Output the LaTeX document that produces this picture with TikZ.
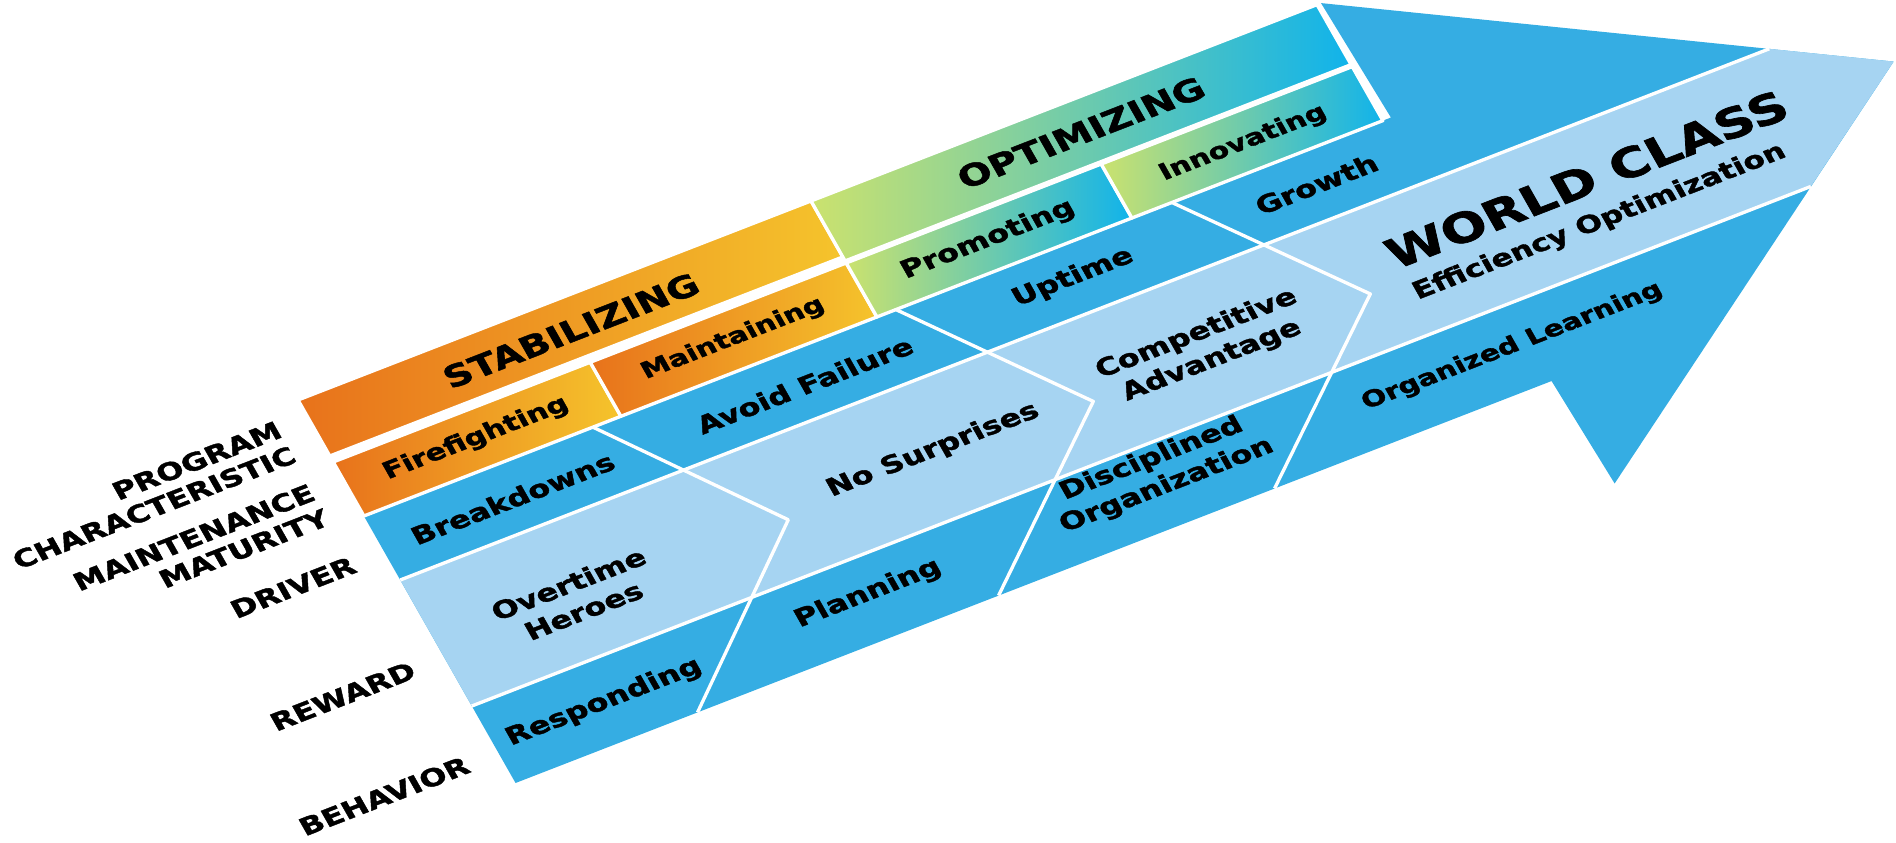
\documentclass[tikz,border=0pt]{standalone}
\usepackage{fontspec}
\setmainfont{DejaVu Sans}[BoldFeatures={FakeBold=1.5}]
\definecolor{arrowblue}{HTML}{35ADE3}
\definecolor{paleblue}{HTML}{A6D4F2}
\definecolor{orangeL}{HTML}{E8721B}
\definecolor{orangeR}{HTML}{F5C42C}
\definecolor{limeL}{HTML}{CBE26E}
\definecolor{cyanR}{HTML}{10B3EB}
\tikzset{
  wline/.style={draw=white, line width=1.9pt, line join=round},
  stabbar/.style={wline, left color=orangeL, right color=orangeR},
  optbar/.style={wline, left color=limeL, right color=cyanR},
  cell/.style={font=\fontsize{12.4}{15.2}\selectfont\bfseries, transform shape, xscale=1.33, align=center, inner sep=0pt},
  side/.style={cell, anchor=east, align=right}
}
\begin{document}
\begin{tikzpicture}[x=0.02cm, y=-0.02cm]
\useasboundingbox (0,0) rectangle (1896,842);
\begin{scope}[shift={(298,400)}, cm={1,0.388,-0.568,1,(0,0)}]
  % arrow body and head
  \fill[arrowblue] (0,116) -- (1027,116) -- (1023,0) -- (1465,230) -- (1040,487) -- (1036,383) -- (0,383) -- cycle;
  \fill[paleblue] (0,180) -- (1369,180) -- (1465,230) -- (1339,306) -- (0,306) -- cycle;
  \draw[wline] (0,180) -- (1369,180);
  \draw[wline] (0,306) -- (1339,306);
  \draw[wline] (229,116) -- (346,254) -- (182,383);
  \draw[wline] (532,116) -- (651,254) -- (483,383);
  \draw[wline] (808,116) -- (928,254) -- (759,383);
  % bars
  \draw[stabbar] (0,0) -- (513,0) -- (513,56) -- (0,56) -- cycle;
  \draw[optbar] (513,0) -- (1019,0) -- (1019,60) -- (513,60) -- cycle;
  \draw[stabbar] (0,62) -- (257,62) -- (257,116) -- (0,116) -- cycle;
  \draw[stabbar] (257,62) -- (513,62) -- (513,116) -- (257,116) -- cycle;
  \draw[optbar] (513,62) -- (768,62) -- (768,116) -- (513,116) -- cycle;
  \draw[optbar] (768,62) -- (1019,62) -- (1019,116) -- (768,116) -- cycle;
  % row labels
  \node[side, font=\fontsize{12.4}{14.2}\selectfont\bfseries] (program) at (-28,30) {PROGRAM\\CHARACTERISTIC};
  \node[side, font=\fontsize{12.4}{14.2}\selectfont\bfseries] (maturity) at (-30,92) {MAINTENANCE\\MATURITY};
  \node[side] (driver) at (-30,152) {DRIVER};
  \node[side] (reward) at (-30,257) {REWARD};
  \node[side] (behavior) at (-30,352) {BEHAVIOR};
  % cells
  \node[cell, font=\fontsize{15.4}{17}\selectfont\bfseries] (stab) at (256,30) {STABILIZING};
  \node[cell, font=\fontsize{15.4}{17}\selectfont\bfseries] (optim) at (766,30) {OPTIMIZING};
  \node[cell, font=\fontsize{11.8}{13}\selectfont\bfseries] (fire) at (128,88) {Firefighting};
  \node[cell, font=\fontsize{11.5}{13}\selectfont\bfseries] (maint) at (385,88) {Maintaining};
  \node[cell] (promo) at (640,88) {Promoting};
  \node[cell, font=\fontsize{11.6}{13}\selectfont\bfseries] (innov) at (894,90) {Innovating};
  \node[cell] (break) at (130,149) {Breakdowns};
  \node[cell] (avoid) at (422,149) {Avoid Failure};
  \node[cell] (uptime) at (692,146) {Uptime};
  \node[cell] (growth) at (935,147) {Growth};
  \node[cell] (heroes) at (136,250) {Overtime\\Heroes};
  \node[cell] (nosurp) at (497,243) {No Surprises};
  \node[cell] (compet) at (767,245) {Competitive\\Advantage};
  \node[cell, font=\fontsize{21}{23}\selectfont\bfseries, anchor=west] (world) at (960,229) {WORLD CLASS};
  \node[cell, font=\fontsize{12.2}{13}\selectfont\bfseries, anchor=west] (effic) at (964,268) {Efficiency Optimization};
  \node[cell] (respond) at (110,345) {Responding};
  \node[cell] (plan) at (377,340) {Planning};
  \node[cell] (discip) at (672,333) {Disciplined\\Organization};
  \node[cell, font=\fontsize{11.5}{13}\selectfont\bfseries] (learn) at (1020,342) {Organized Learning};
\end{scope}
\end{tikzpicture}
\end{document}
